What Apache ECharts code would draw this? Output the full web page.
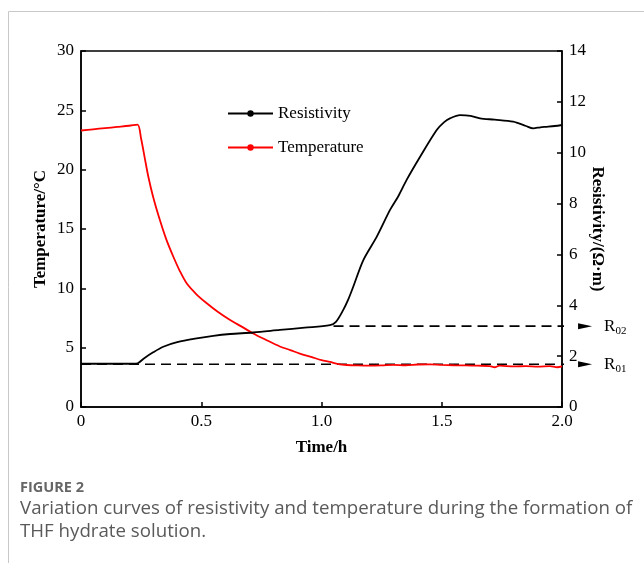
<!DOCTYPE html>
<html><head><meta charset="utf-8">
<script src="https://cdn.jsdelivr.net/npm/echarts@6/dist/echarts.min.js"></script>
<style>html,body{margin:0;padding:0;background:#fff}#c{width:644px;height:563px}</style>
</head><body><div id="c"></div>
<script>
var xTicks = ['0','0.5','1.0','1.5','2.0'];
var tempTime = [0,0.05,0.1,0.15,0.2,0.235,0.25,0.265,0.28,0.3,0.328,0.355,0.384,0.41,0.44,0.48,0.523,0.57,0.62,0.67,0.716,0.77,0.827,0.87,0.91,0.96,1.0,1.035,1.07,1.105,1.15,1.2,1.25,1.3,1.35,1.4,1.45,1.5,1.55,1.6,1.65,1.7,1.72,1.74,1.8,1.85,1.9,1.95,1.98,2.0];
var tempVal  = [23.3,23.4,23.5,23.6,23.7,23.8,22.6,21.0,19.4,17.7,15.75,14.1,12.66,11.5,10.4,9.5,8.74,8.0,7.33,6.75,6.2,5.65,5.1,4.8,4.5,4.2,3.95,3.8,3.62,3.54,3.5,3.48,3.5,3.55,3.52,3.58,3.6,3.55,3.52,3.5,3.48,3.45,3.35,3.48,3.42,3.45,3.4,3.45,3.35,3.42];
var resTime = [0,0.1,0.2,0.235,0.26,0.3,0.342,0.4,0.481,0.55,0.62,0.716,0.827,0.93,1.035,1.06,1.09,1.11,1.132,1.174,1.23,1.285,1.32,1.354,1.41,1.479,1.51,1.534,1.576,1.62,1.659,1.72,1.797,1.85,1.88,1.91,1.936,1.97,2.0];
var resVal  = [1.7,1.7,1.7,1.72,1.9,2.15,2.37,2.55,2.7,2.8,2.87,2.93,3.03,3.12,3.22,3.35,3.81,4.2,4.73,5.78,6.7,7.75,8.3,8.93,9.84,10.89,11.2,11.35,11.48,11.45,11.35,11.3,11.22,11.05,10.96,11.0,11.02,11.05,11.09];
var r02Time = [1.05, 2.096];
var r02Val = [3.18, 3.18];
var r01Time = [0, 2.096];
var r01Val = [1.68, 1.68];
var r02Label = 'R{s|02}';
var r01Label = 'R{s|01}';

function pairs(a,b){return a.map(function(v,i){return [v,b[i]];});}
function arrowLine(t,v,lab){
  var d = pairs(t,v).map(function(p,i,arr){
    if(i===arr.length-1){
      return {value:p, symbol:'triangle', symbolSize:[6,14], symbolRotate:-90,
        label:{show:true, position:'right', distance:12, formatter:lab,
          fontFamily:'Liberation Serif', fontSize:17, color:'#000',
          rich:{s:{fontSize:11, fontFamily:'Liberation Serif', padding:[9,0,0,0]}}}};
    }
    return {value:p, symbol:'none'};
  });
  return {type:'line', yAxisIndex:1, data:d, clip:false, silent:true, z:1,
    lineStyle:{color:'#000', width:1.6, type:[10,6]}, itemStyle:{color:'#000'}, showSymbol:true, animation:false};
}

var serif = 'Liberation Serif';
var chart = echarts.init(document.getElementById('c'));
chart.setOption({
  animation:false,
  grid:{left:81, right:82, top:51, bottom:156, show:true, borderColor:'#000', borderWidth:1.5},
  legend:{orient:'vertical', left:222, top:100, itemGap:17, itemWidth:45, itemHeight:8,
    textStyle:{fontFamily:serif, fontSize:17, color:'#000'},
    data:['Resistivity','Temperature']},
  xAxis:{type:'value', min:0, max:2, interval:0.5,
    name:'Time/h', nameLocation:'middle', nameGap:32,
    nameTextStyle:{fontFamily:serif, fontSize:17, fontWeight:'bold', color:'#000'},
    axisLine:{lineStyle:{color:'#000', width:1.5}},
    axisTick:{inside:true, length:5, lineStyle:{color:'#000', width:1.5}},
    axisLabel:{fontFamily:serif, fontSize:17, color:'#000', margin:6,
      formatter:function(v){return xTicks[Math.round(v*2)];}},
    splitLine:{show:false}},
  yAxis:[
    {type:'value', min:0, max:30, interval:5, position:'left',
      name:'Temperature/\u00B0C', nameLocation:'middle', nameGap:32, nameRotate:90, nameMoveOverlap:false,
      nameTextStyle:{fontFamily:serif, fontSize:17, fontWeight:'bold', color:'#000'},
      axisLine:{show:true, lineStyle:{color:'#000', width:1.5}},
      axisTick:{show:true, inside:true, length:5, lineStyle:{color:'#000', width:1.5}},
      axisLabel:{fontFamily:serif, fontSize:17, color:'#000', margin:7},
      splitLine:{show:false}},
    {type:'value', min:0, max:14, interval:2, position:'right',
      name:'Resistivity/(\u03A9\u00B7m)', nameLocation:'middle', nameGap:27, nameRotate:-90, nameMoveOverlap:false,
      nameTextStyle:{fontFamily:serif, fontSize:17, fontWeight:'bold', color:'#000'},
      axisLine:{show:true, lineStyle:{color:'#000', width:1.5}},
      axisTick:{show:true, inside:true, length:5, lineStyle:{color:'#000', width:1.5}},
      axisLabel:{fontFamily:serif, fontSize:17, color:'#000', margin:7},
      splitLine:{show:false}}
  ],
  series:[
    arrowLine(r01Time, r01Val, r01Label),
    arrowLine(r02Time, r02Val, r02Label),
    {name:'Resistivity', type:'line', yAxisIndex:1, data:pairs(resTime,resVal),
      symbol:'circle', symbolSize:4, showSymbol:false, smooth:0.3, z:3,
      lineStyle:{color:'#000', width:1.8}, itemStyle:{color:'#000'}},
    {name:'Temperature', type:'line', yAxisIndex:0, data:pairs(tempTime,tempVal),
      symbol:'circle', symbolSize:4, showSymbol:false, smooth:0.3, z:2,
      lineStyle:{color:'#ff0000', width:1.8}, itemStyle:{color:'#ff0000'}}
  ],
  graphic:[
    {type:'rect', silent:true, shape:{x:8.5, y:11.5, width:800, height:800},
      style:{fill:null, stroke:'#c8c8c8', lineWidth:1}},
    {type:'text', left:20, top:480, silent:true,
      style:{text:'FIGURE 2', fontFamily:'Open Sans', fontSize:14.5, fontWeight:'bold', fill:'#666'}},
    {type:'text', left:20, top:497, silent:true,
      style:{text:'Variation curves of resistivity and temperature during the formation of\nTHF hydrate solution.',
        fontFamily:'Open Sans', fontSize:18.7, lineHeight:23, fill:'#5a5a5a'}}
  ]
});
</script></body></html>
